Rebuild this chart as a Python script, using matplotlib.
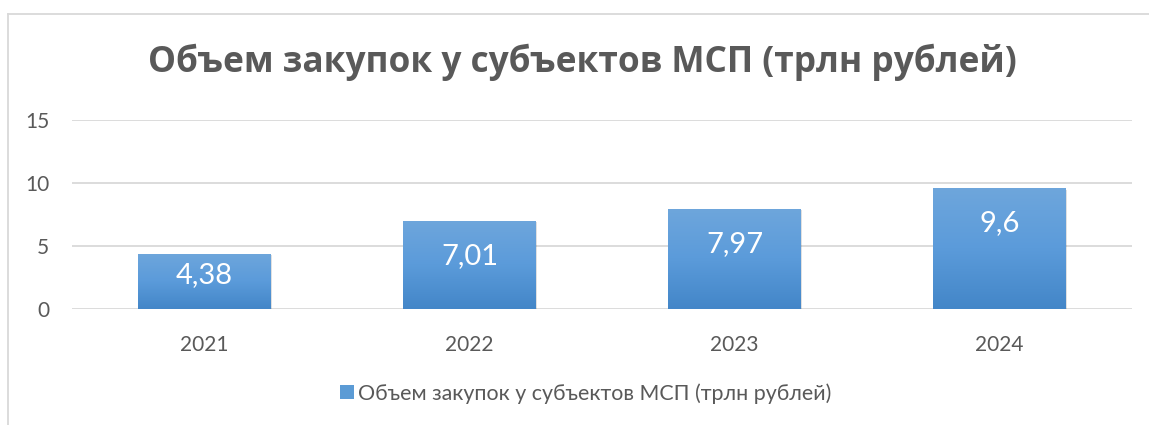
import matplotlib
matplotlib.use("Agg")
import matplotlib.pyplot as plt
import numpy as np
from matplotlib.patches import Rectangle
from matplotlib.colors import LinearSegmentedColormap
from matplotlib.lines import Line2D

categories = ["2021", "2022", "2023", "2024"]
values = [4.38, 7.01, 7.97, 9.6]
value_labels = ["4,38", "7,01", "7,97", "9,6"]
yticks = [0, 5, 10, 15]
title = "Объем закупок у субъектов МСП (трлн рублей)"
series_name = "Объем закупок у субъектов МСП (трлн рублей)"

FONT = ["Lato", "DejaVu Sans"]
plt.rcParams["font.family"] = FONT
TXT = "#595959"
GRID = "#D9D9D9"

W, H = 1149, 425
fig = plt.figure(figsize=(W / 100, H / 100), dpi=100)
ax = fig.add_axes([72 / W, (H - 309) / H, (1132 - 72) / W, (309 - 120) / H])

x = np.arange(len(categories))
bw = 0.5
bars = ax.bar(x, values, width=bw, color="none", zorder=3)
ax.set_xlim(-0.5, len(categories) - 0.5)
ax.set_ylim(0, 15)

cmap = LinearSegmentedColormap.from_list("g", ["#4386C8", "#5B9BDA", "#6EA6DC"])
grad = np.linspace(0, 1, 256).reshape(-1, 1)
for b in bars:
    x0, y0, w, h = b.get_x(), b.get_y(), b.get_width(), b.get_height()
    sh = Rectangle((x0 + 0.006, y0 - 0.12), w, h, facecolor="#000000", alpha=0.12,
                   edgecolor="none", zorder=2)
    ax.add_patch(sh)
    im = ax.imshow(grad, cmap=cmap, extent=[x0, x0 + w, y0, y0 + h], origin="lower",
                   aspect="auto", zorder=3)
    im.set_clip_path(b)

for xi, v, lab in zip(x, values, value_labels):
    ly = max(v - 2.78, 2.7)
    ax.text(xi, ly, lab, ha="center", va="center", color="white", fontsize=21, zorder=5)

ax.set_yticks(yticks)
ax.set_yticklabels([str(t) for t in yticks])
ax.set_xticks(x)
ax.set_xticklabels(categories)
ax.yaxis.grid(True, color=GRID, linewidth=1.3, zorder=0)
ax.set_axisbelow(True)
for s in ax.spines.values():
    s.set_visible(False)
ax.tick_params(axis="both", length=0, colors=TXT, labelsize=15)
ax.tick_params(axis="y", pad=16.5)
ax.tick_params(axis="x", pad=19)

t = fig.text(582 / W, (H - 72) / H, title, ha="center", va="baseline", fontsize=22.5,
             fontweight="bold", color=TXT, family=["Open Sans", "DejaVu Sans"])
fig.canvas.draw()
tw = t.get_window_extent().width
t.set_fontsize(22.5 * 869 / tw)

fig.patches.append(Rectangle((340 / W, (H - 399) / H), 14 / W, 14 / H, transform=fig.transFigure,
                             facecolor="#5B9BD5", edgecolor="none"))
fig.text(358 / W, (H - 400) / H, series_name, ha="left", va="baseline", fontsize=15.4, color=TXT)

fig.add_artist(Line2D([8 / W, 1], [(H - 14) / H] * 2, transform=fig.transFigure, color=GRID, lw=1.3))
fig.add_artist(Line2D([8 / W] * 2, [0, (H - 14) / H], transform=fig.transFigure, color=GRID, lw=1.3))

fig.savefig("out.png", dpi=100)
